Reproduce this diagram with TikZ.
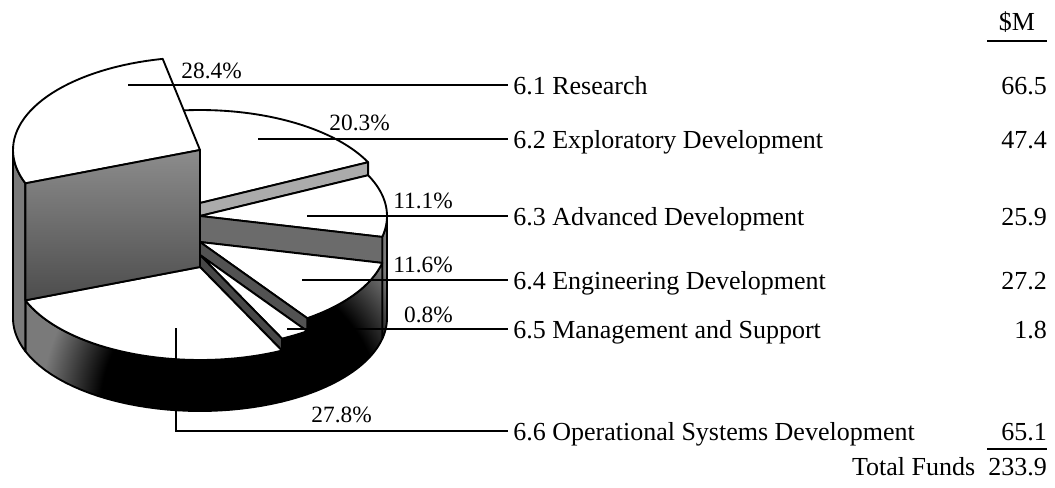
\documentclass[tikz,border=0pt]{standalone}
\usepackage{fontspec}
\setmainfont{Liberation Serif}
\pgfdeclareradialshading{wallrad}{\pgfpoint{0bp}{0bp}}{color(0bp)=(black); color(7bp)=(black); color(10bp)=(black!52); color(50bp)=(black!52)}
\newcommand\pieWall[3]{%
  \begin{scope}
    \clip plot[domain=#1:#2,samples=30] ({px(\x)},{py(\x,#3)}) -- plot[domain=#2:#1,samples=30] ({px(\x)},{py(\x,318)}) -- cycle;
    \shade[shading=wallrad] (240,410) circle[radius=375pt];
  \end{scope}
  \draw[outline] plot[domain=#1:#2,samples=30] ({px(\x)},{py(\x,#3)}) -- plot[domain=#2:#1,samples=30] ({px(\x)},{py(\x,318)}) -- cycle;
}
\newcommand\pieTop[4]{%
  \coordinate (#1apex) at (200,#4);
  \draw[topface] (#1apex) -- plot[domain=#2:#3,samples=40] ({px(\x)},{py(\x,#4)}) -- cycle;
}
\newcommand\pieFace[5]{%
  \coordinate (#1a) at (200,#3);
  \coordinate (#1b) at ({px(#2)},{py(#2,#3)});
  \coordinate (#1c) at ({px(#2)},{py(#2,#4)});
  \coordinate (#1d) at (200,#4);
  \path[outline,#5] (#1a) -- (#1b) -- (#1c) -- (#1d) -- cycle;
}
\begin{document}
\begin{tikzpicture}[x=0.75pt,y=-0.75pt,
  outline/.style={draw=black, line width=1.4pt, line join=round},
  topface/.style={outline, fill=white},
  leader/.style={draw=black, line width=1.1pt},
  lbl/.style={anchor=base west, inner sep=0pt, font=\fontsize{19.5}{22}\selectfont},
  num/.style={anchor=base east, inner sep=0pt, font=\fontsize{19.5}{22}\selectfont},
  pct/.style={anchor=base east, inner sep=0pt, font=\fontsize{17.5}{20}\selectfont},
  declare function={px(\a)=200+187*cos(\a); py(\a,\l)=\l-93*sin(\a);},
]
\useasboundingbox (0,0) rectangle (1055,487);
% 6.2 Exploratory Development
\pieTop{T2}{26}{101.5}{203}
\pieFace{F23}{26}{203}{216}{fill=black!33}
% 6.3 Advanced Development
\pieWall{347}{360}{216}
\pieTop{T3}{347}{386}{216}
\pieFace{F34}{347}{216}{242}{fill=black!58}
% 6.4 Engineering Development
\pieWall{305}{347}{242}
\pieTop{T4}{305}{347}{242}
\pieFace{F45}{305}{242}{255}{fill=black!68}
% 6.5 Management and Support
\pieWall{296}{305}{255}
\pieTop{T5}{296}{305}{255}
\pieFace{F56}{296}{255}{267}{fill=black!72}
% 6.6 Operational Systems Development
\pieWall{201}{296}{267}
\pieTop{T6}{201}{296}{267}
% 6.1 Research
\pieWall{180}{201}{150}
\pieTop{T1}{101.5}{201}{150}
\pieFace{FR6}{201}{150}{267}{top color=black!45, bottom color=black!70}

% leader lines
\coordinate (s1) at (128,85);  \coordinate (e1) at (508,85);
\coordinate (s2) at (258,139); \coordinate (e2) at (508,139);
\coordinate (s3) at (307,216); \coordinate (e3) at (508,216);
\coordinate (s4) at (302,280); \coordinate (e4) at (508,280);
\coordinate (s5) at (287,329); \coordinate (e5) at (508,329);
\coordinate (s6) at (176,328); \coordinate (k6) at (176,431); \coordinate (e6) at (508,431);
\draw[leader] (s1) -- (e1);
\draw[leader] (s2) -- (e2);
\draw[leader] (s3) -- (e3);
\draw[leader] (s4) -- (e4);
\draw[leader] (s5) -- (e5);
\draw[leader] (s6) -- (k6) -- (e6);

% percentages
\node[pct] (p1) at (242,78) {28.4\%};
\node[pct] (p2) at (390,130) {20.3\%};
\node[pct] (p3) at (453,208) {11.1\%};
\node[pct] (p4) at (453,272) {11.6\%};
\node[pct] (p5) at (453,322) {0.8\%};
\node[pct] (p6) at (372,422) {27.8\%};

% labels
\node[lbl] (l1) at (513,94) {6.1 Research};
\node[lbl] (l2) at (513,148) {6.2 Exploratory Development};
\node[lbl] (l3) at (513,225) {6.3 Advanced Development};
\node[lbl] (l4) at (513,289) {6.4 Engineering Development};
\node[lbl] (l5) at (513,338) {6.5 Management and Support};
\node[lbl] (l6) at (513,440) {6.6 Operational Systems Development};

% values
\node[num, anchor=base] (hdr) at (1017,30) {\$M};
\coordinate (u1a) at (987,41); \coordinate (u1b) at (1047,41);
\draw[leader] (u1a) -- (u1b);
\node[num] (v1) at (1047,94) {66.5};
\node[num] (v2) at (1047,148) {47.4};
\node[num] (v3) at (1047,225) {25.9};
\node[num] (v4) at (1047,289) {27.2};
\node[num] (v5) at (1047,338) {1.8};
\node[num] (v6) at (1047,440) {65.1};
\coordinate (u2a) at (987,449); \coordinate (u2b) at (1047,449);
\draw[leader] (u2a) -- (u2b);
\node[num] (tot) at (1047,475) {Total Funds\ \ 233.9};
\end{tikzpicture}
\end{document}
